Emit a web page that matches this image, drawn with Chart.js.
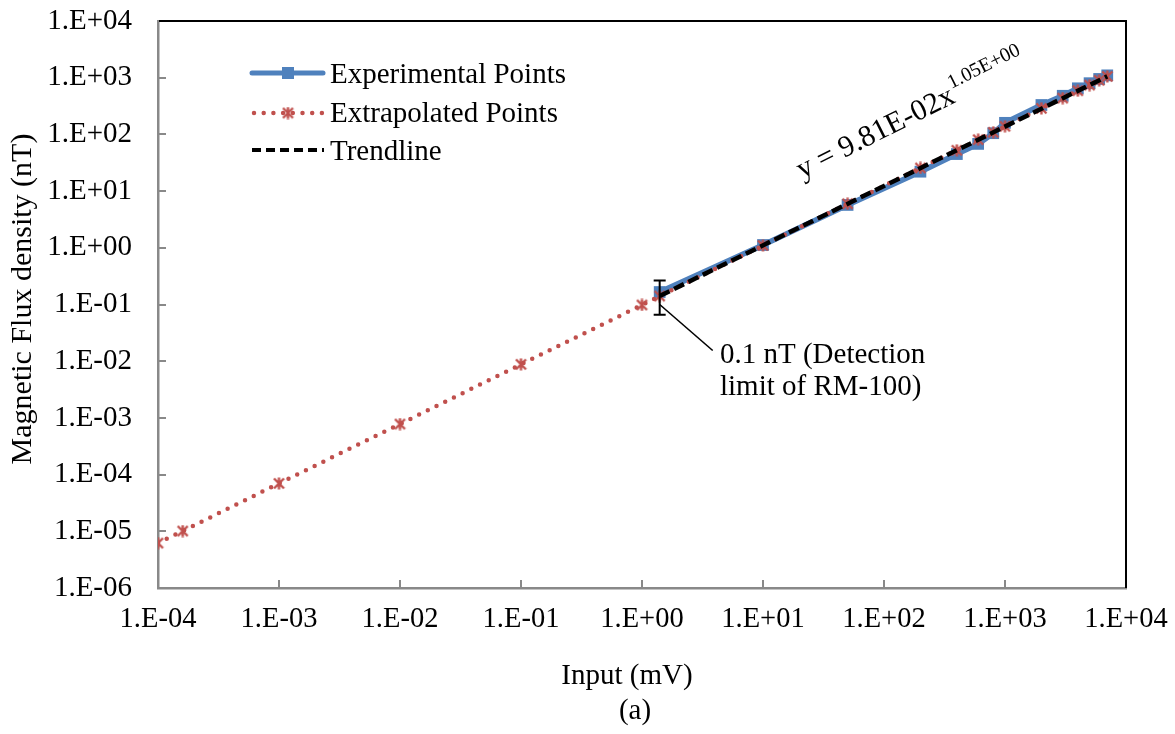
<!DOCTYPE html>
<html>
<head>
<meta charset="utf-8">
<script src="https://cdn.jsdelivr.net/npm/chart.js@4.4.0/dist/chart.umd.min.js"></script>
<style>
  html, body { margin: 0; padding: 0; background: #ffffff; }
  #wrap { width: 1175px; height: 734px; }
</style>
</head>
<body>
<div id="wrap"><canvas id="c" width="1175" height="734"></canvas></div>
<script>
const FONT = '"Liberation Serif", "Times New Roman", serif';

// Measured magnetic flux density versus input voltage
const expInput = [1.4, 10, 50, 200, 400, 600, 800, 1000, 2000, 3000, 4000, 5000, 6000, 7000];
const expFlux  = [0.166, 1.12, 5.7, 22, 45, 68, 105, 160, 330, 480, 650, 800, 950, 1100];

// Points extrapolated along the fitted power law
const extInput = [0.0001, 0.00016, 0.001, 0.01, 0.1, 1, 1.4, 10, 50, 200, 400, 600, 800, 1000, 2000, 3000, 4000, 5000, 6000, 7000];
const extFlux  = [6.2e-6, 1.01e-5, 7.0e-5, 7.8e-4, 8.8e-3, 0.098, 0.141, 1.10, 5.97, 25.6, 52.5, 80.7, 109, 139, 288, 437, 589, 743, 901, 1055];

// Power-law trendline end points
const trendInput = [1.4, 7000];
const trendFlux  = [0.141, 1055];

// Detection limit (± error on the first measured point)
const detectionLimit = 0.1;

// Axis ticks
const xTicks = [1e-4, 1e-3, 1e-2, 1e-1, 1e0, 1e1, 1e2, 1e3, 1e4];
const xTickLabels = ['1.E-04', '1.E-03', '1.E-02', '1.E-01', '1.E+00', '1.E+01', '1.E+02', '1.E+03', '1.E+04'];
const yTicks = [1e-6, 1e-5, 1e-4, 1e-3, 1e-2, 1e-1, 1e0, 1e1, 1e2, 1e3, 1e4];
const yTickLabels = ['1.E-06', '1.E-05', '1.E-04', '1.E-03', '1.E-02', '1.E-01', '1.E+00', '1.E+01', '1.E+02', '1.E+03', '1.E+04'];

const BLUE = '#4F81BD';
const RED = '#C0504D';
const AXIS_GREY = '#898989';

// Asterisk marker (X plus a vertical stroke)
function makeStar(size, color, lw) {
  const c = document.createElement('canvas');
  c.width = size; c.height = size;
  const g = c.getContext('2d');
  g.strokeStyle = color; g.lineWidth = lw; g.lineCap = 'butt';
  const m = 1.5, s = size;
  g.beginPath();
  g.moveTo(m, m); g.lineTo(s - m, s - m);
  g.moveTo(s - m, m); g.lineTo(m, s - m);
  g.moveTo(s / 2, 0.5); g.lineTo(s / 2, s - 0.5);
  g.stroke();
  return c;
}
const starMarker = makeStar(13, RED, 2.4);

const toXY = (xs, ys) => xs.map((x, i) => ({ x: x, y: ys[i] }));

// Frame: inward tick marks and black top/right border
const framePlugin = {
  id: 'frame',
  beforeDatasetsDraw(chart) {
    const { ctx, chartArea: a, scales: { x, y } } = chart;
    ctx.save();
    ctx.strokeStyle = AXIS_GREY;
    ctx.lineWidth = 2;
    ctx.beginPath();
    xTicks.forEach(v => {
      const px = Math.round(x.getPixelForValue(v));
      ctx.moveTo(px, a.bottom); ctx.lineTo(px, a.bottom - 8);
    });
    yTicks.forEach(v => {
      const py = Math.round(y.getPixelForValue(v));
      ctx.moveTo(a.left, py); ctx.lineTo(a.left + 8, py);
    });
    ctx.stroke();
    ctx.strokeStyle = '#000';
    ctx.lineWidth = 2;
    ctx.beginPath();
    ctx.moveTo(a.left + 1, a.top);
    ctx.lineTo(a.right, a.top);
    ctx.lineTo(a.right, a.bottom);
    ctx.stroke();
    ctx.restore();
  }
};

// Error bar, annotation, equation, legend and axis titles
const overlayPlugin = {
  id: 'overlay',
  afterDatasetsDraw(chart) {
    const { ctx, scales: { x, y } } = chart;
    ctx.save();
    // error bar on the first measured point
    const ex = x.getPixelForValue(expInput[0]);
    const eTop = y.getPixelForValue(expFlux[0] + detectionLimit);
    const eBot = y.getPixelForValue(expFlux[0] - detectionLimit);
    ctx.strokeStyle = '#000';
    ctx.lineWidth = 2;
    ctx.beginPath();
    ctx.moveTo(ex, eTop); ctx.lineTo(ex, eBot);
    ctx.moveTo(ex - 6, eTop); ctx.lineTo(ex + 6, eTop);
    ctx.moveTo(ex - 6, eBot); ctx.lineTo(ex + 6, eBot);
    ctx.stroke();

    // leader line to the detection-limit note
    const lx = x.getPixelForValue(expInput[0]);
    const ly = y.getPixelForValue(detectionLimit);
    ctx.lineWidth = 1.6;
    ctx.beginPath();
    ctx.moveTo(lx, ly); ctx.lineTo(lx + 53, ly + 46);
    ctx.stroke();
    ctx.restore();
  },
  afterDraw(chart) {
    const { ctx } = chart;
    ctx.save();
    ctx.fillStyle = '#000';
    ctx.textBaseline = 'alphabetic';
    ctx.textAlign = 'left';
    ctx.font = '29px ' + FONT;
    ctx.fillText('0.1 nT (Detection', 720, 363);
    ctx.fillText('limit of RM-100)', 720, 395);

    // trendline equation
    ctx.save();
    ctx.translate(802, 179);
    ctx.rotate(-26.5 * Math.PI / 180);
    ctx.font = '30px ' + FONT;
    const eq = 'y = 9.81E-02x';
    ctx.fillText(eq, 0, 0);
    const w = ctx.measureText(eq).width;
    ctx.font = '20px ' + FONT;
    ctx.fillText('1.05E+00', w + 1, -14);
    ctx.restore();

    // legend
    const x0 = 252, x1 = 323, mx = 288;
    ctx.lineWidth = 5;
    ctx.strokeStyle = BLUE;
    ctx.lineCap = 'round';
    ctx.beginPath(); ctx.moveTo(x0, 73); ctx.lineTo(x1, 73); ctx.stroke();
    ctx.fillStyle = BLUE;
    ctx.fillRect(mx - 6, 73 - 6, 12, 12);

    ctx.strokeStyle = RED;
    ctx.lineWidth = 4.5;
    ctx.setLineDash([0, 9.7]);
    ctx.beginPath(); ctx.moveTo(x0 + 2, 113); ctx.lineTo(x1, 113); ctx.stroke();
    ctx.setLineDash([]);
    ctx.drawImage(starMarker, mx - 6.5, 113 - 6.5);

    ctx.strokeStyle = '#000';
    ctx.lineCap = 'butt';
    ctx.lineWidth = 4;
    ctx.setLineDash([9, 5]);
    ctx.beginPath(); ctx.moveTo(x0, 150); ctx.lineTo(x1 + 1, 150); ctx.stroke();
    ctx.setLineDash([]);

    ctx.fillStyle = '#000';
    ctx.font = '29px ' + FONT;
    ctx.fillText('Experimental Points', 330, 83);
    ctx.fillText('Extrapolated Points', 330, 122);
    ctx.fillText('Trendline', 330, 160);

    // axis titles and caption
    ctx.textAlign = 'center';
    ctx.fillText('Input (mV)', 627, 684);
    ctx.fillText('(a)', 635, 719);
    ctx.save();
    ctx.translate(31, 299);
    ctx.rotate(-Math.PI / 2);
    ctx.font = '30px ' + FONT;
    ctx.fillText('Magnetic Flux density (nT)', 0, 0);
    ctx.restore();
    ctx.restore();
  }
};

new Chart(document.getElementById('c'), {
  type: 'line',
  data: {
    datasets: [
      {
        label: 'Trendline',
        data: toXY(trendInput, trendFlux),
        borderColor: '#000',
        borderWidth: 4.5,
        borderDash: [11, 5],
        pointRadius: 0,
        fill: false,
        order: 0
      },
      {
        label: 'Extrapolated Points',
        data: toXY(extInput, extFlux),
        borderColor: RED,
        borderWidth: 4.5,
        borderDash: [0, 9.7],
        borderCapStyle: 'round',
        pointStyle: starMarker,
        pointRadius: 6,
        fill: false,
        order: 1
      },
      {
        label: 'Experimental Points',
        data: toXY(expInput, expFlux),
        borderColor: BLUE,
        backgroundColor: BLUE,
        borderWidth: 5.5,
        borderJoinStyle: 'round',
        pointStyle: 'rect',
        pointRadius: 8.3,
        pointBorderWidth: 0,
        fill: false,
        order: 2
      }
    ]
  },
  options: {
    responsive: false,
    devicePixelRatio: 1,
    animation: false,
    layout: { padding: { left: 0, right: 49, top: 21, bottom: 0 } },
    plugins: { legend: { display: false }, tooltip: { enabled: false } },
    scales: {
      x: {
        type: 'logarithmic',
        min: 1e-4,
        max: 1e4,
        afterBuildTicks: s => { s.ticks = xTicks.map(v => ({ value: v })); },
        afterFit: s => { s.height = 146; s.paddingLeft = 0; s.paddingRight = 0; },
        grid: { display: false, drawTicks: false },
        border: { display: true, color: AXIS_GREY, width: 2.5 },
        ticks: {
          autoSkip: false, maxRotation: 0, padding: 14,
          color: '#000',
          font: { family: FONT, size: 28.5 },
          callback: (v, i) => xTickLabels[i]
        }
      },
      y: {
        type: 'logarithmic',
        min: 1e-6,
        max: 1e4,
        afterBuildTicks: s => { s.ticks = yTicks.map(v => ({ value: v })); },
        afterFit: s => { s.width = 158; s.paddingTop = 0; s.paddingBottom = 0; },
        grid: { display: false, drawTicks: false },
        border: { display: true, color: AXIS_GREY, width: 2.5 },
        ticks: {
          autoSkip: false, padding: 26,
          color: '#000',
          font: { family: FONT, size: 29 },
          callback: (v, i) => yTickLabels[i]
        }
      }
    }
  },
  plugins: [framePlugin, overlayPlugin]
});
</script>
</body>
</html>
